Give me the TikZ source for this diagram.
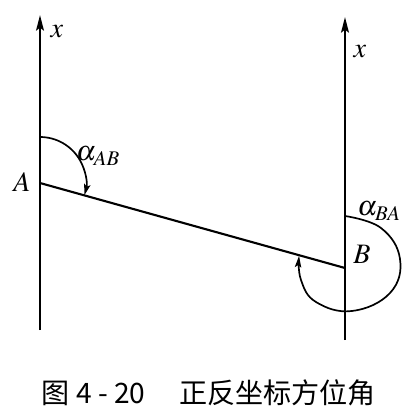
\documentclass[tikz,border=0pt]{standalone}
\usepackage{mathptmx}
\usepackage{fontspec}
\newfontfamily\cjkfont{Noto Sans CJK SC}
\usetikzlibrary{calc,arrows.meta,positioning}

\begin{document}
\begin{tikzpicture}[x=0.025cm,y=-0.025cm]

\tikzset{axisline/.style={line width=1.8pt,-{Stealth[length=11pt,width=5.5pt,inset=2pt]}},
angarc/.style={line width=1.2pt,-{Stealth[length=8pt,width=4.5pt,inset=1.5pt]}},
lbl/.style={font=\fontsize{20}{24}\selectfont,inner sep=1pt}}

\useasboundingbox (0,0) rectangle (417,417);

% Axes
\coordinate (Abot) at (40,330); \coordinate (Atop) at (40,15);
\coordinate (Bbot) at (345,340); \coordinate (Btop) at (345,17);
\draw[axisline] (Abot) -- (Atop);
\draw[axisline] (Bbot) -- (Btop);
\node[lbl] (xA) at (57,32) {$x$};
\node[lbl] (xB) at (360,52) {$x$};

% Line AB
\coordinate (A) at (40,183); \coordinate (B) at (345,268);
\draw[line width=1.5pt] (A) -- (B);
\node[lbl] (labA) at (22,182) {$A$};
\node[lbl] (labB) at (362,254) {$B$};

% Angles
\draw[angarc] ($(A)+(0,-46)$) arc[start angle=-90,end angle=15.6,radius=46];
\node[lbl] (aAB) at (98,156) {$\alpha_{AB}$};
\draw[angarc] plot[smooth,tension=0.7] coordinates {(345,216) (381,228) (400,259) (390,293) (352,311) (316,302) (301,280) (299,256)};
\node[lbl] (aBA) at (379,211) {$\alpha_{BA}$};

% Caption
\node[font=\cjkfont\fontsize{20}{24}\selectfont] (cap) at (209,393) {图\ 4\ -\ 20\hspace{1.2em}正反坐标方位角};

\end{tikzpicture}
\end{document}
